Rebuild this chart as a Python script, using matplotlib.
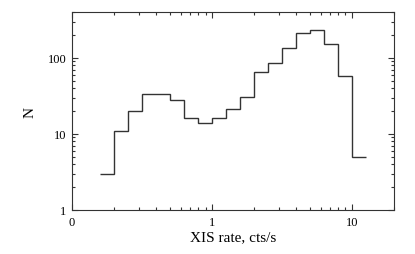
import numpy as np
import matplotlib
matplotlib.use("Agg")
import matplotlib.pyplot as plt
from matplotlib.ticker import FixedLocator, LogLocator, NullFormatter, FixedFormatter

# log-spaced bin edges (0.1 dex), counts per bin
log_edges = [-0.8, -0.7, -0.6, -0.5, -0.4, -0.3, -0.2, -0.1, 0.0, 0.1,
             0.2, 0.3, 0.4, 0.5, 0.6, 0.7, 0.8, 0.9, 1.0, 1.1]
counts = [3, 11, 20, 33, 33, 28, 16, 14, 16, 21, 31, 66, 85, 134, 215, 234, 150, 57, 5]

x_ticks = [0.1, 1, 10]
x_labels = ["0", "1", "10"]
y_ticks = [1, 10, 100]
y_labels = ["1", "10", "100"]


def main():
    plt.rcParams['font.family'] = ['Liberation Serif', 'DejaVu Serif']
    fig = plt.figure(figsize=(4.15, 2.55), dpi=100)
    ax = fig.add_axes([72 / 415, 44 / 255, 322 / 415, 198 / 255])

    edges = 10 ** np.array(log_edges)
    ax.stairs(counts, edges, color='#333333', linewidth=1.0, baseline=None)

    ax.set_xscale('log')
    ax.set_yscale('log')
    ax.set_xlim(0.1, 20)
    ax.set_ylim(1, 400)

    ax.xaxis.set_major_locator(FixedLocator(x_ticks))
    ax.xaxis.set_major_formatter(FixedFormatter(x_labels))
    ax.yaxis.set_major_locator(FixedLocator(y_ticks))
    ax.yaxis.set_major_formatter(FixedFormatter(y_labels))
    ax.xaxis.set_minor_locator(LogLocator(base=10, subs=np.arange(2, 10)))
    ax.yaxis.set_minor_locator(LogLocator(base=10, subs=np.arange(2, 10)))
    ax.xaxis.set_minor_formatter(NullFormatter())
    ax.yaxis.set_minor_formatter(NullFormatter())

    ax.tick_params(which='both', direction='in', top=True, right=True,
                   labelsize=9, width=0.8, colors='#333333', labelcolor='black')
    ax.tick_params(which='major', length=4.5, pad=4)
    ax.tick_params(which='minor', length=2.2)
    for s in ax.spines.values():
        s.set_linewidth(0.8)
        s.set_color('#333333')

    ax.set_xlabel('XIS rate, cts/s', fontsize=11, labelpad=2)
    ax.set_ylabel('N', fontsize=11, labelpad=8)

    fig.savefig('out.png', dpi=100)


if __name__ == '__main__':
    main()
